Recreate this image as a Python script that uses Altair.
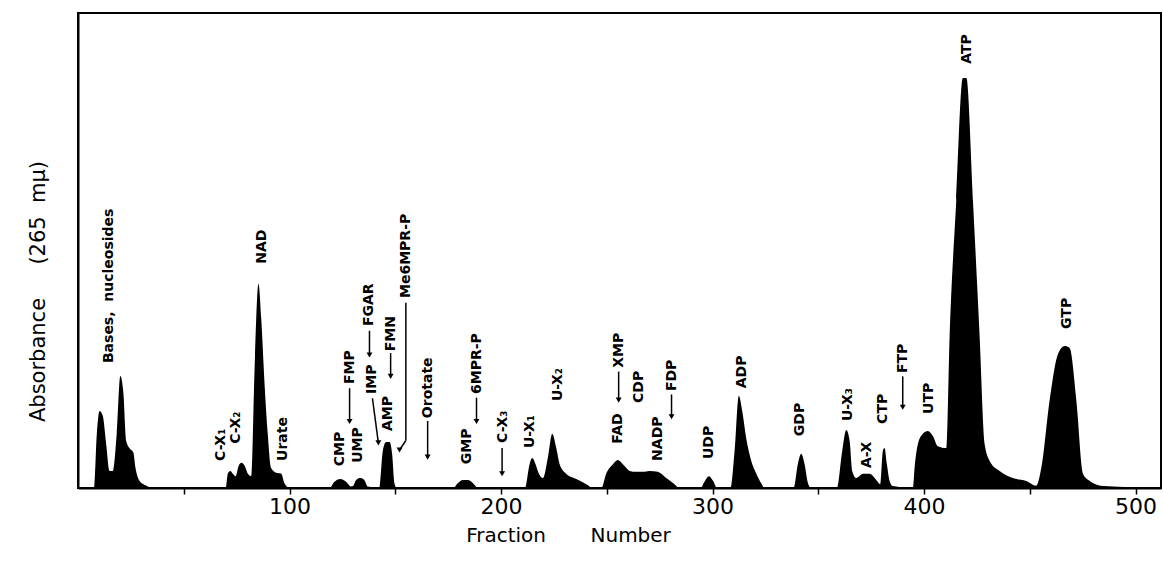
import altair as alt
import pandas as pd

# ---- elution profile (fraction number, absorbance at 265 mu, arbitrary units) ----
fraction = [0, 7.5, 8.9, 10.2, 11.7, 13.3, 14.9, 16.5, 18.3, 20.0, 21.5, 22.8, 24.3, 26.2, 27.2, 29.1, 32.4, 35,
            69.8, 70.8, 72.0, 73.2, 74.5, 75.9, 77.3, 78.9, 80.3, 81.9, 83.5, 85.3, 86.6, 88.2, 89.7, 91.3, 93.7,
            96.1, 97.6, 100,
            119, 121, 124, 127, 129, 130, 131.5, 133.5, 135.5, 137,
            142.4, 144.1, 145.7, 147.3, 148.5, 149.6, 150.6,
            177.5, 179.5, 182, 184.5, 187, 189,
            211.3, 213.5, 214.7, 216.3, 217.9, 219.8, 222.1, 224.2, 226.1, 227.7, 230.8, 235.6, 240.3, 243.4,
            247.4, 249.7, 252.9, 255.2, 257.6, 260.8, 263.9, 267.0, 270.2, 274.1, 278.1, 282.0, 284.4,
            294.5, 296.0, 298.3, 300.5, 302.0,
            308.4, 310.4, 312.4, 314.0, 315.9, 318.3, 320.7, 323.0, 324.6,
            338.3, 340.3, 341.9, 343.5, 345.1, 346.5,
            358.8, 361.3, 363.2, 364.8, 366.0, 367.9, 371.1, 374.2, 377.4, 379.3,
            380.5, 381.3, 382.4, 383.7, 385.2,
            394.7, 395.5, 397.1, 399.4, 401.8, 404.2, 406.5, 410.5,
            412.1, 415.2, 418.3, 420.0, 423.1, 426.2, 428.6, 431.0, 435.7, 441.9, 448.3, 453,
            455.4, 459.3, 463.3, 466.4, 468.8, 472.0, 475.1, 478.3, 485, 512]
absorbance = [0, 0.0, 0.114, 0.162, 0.152, 0.093, 0.036, 0.036, 0.114, 0.236, 0.198, 0.099, 0.084, 0.074, 0.042, 0.015, 0.005, 0,
              0, 0.03, 0.036, 0.03, 0.025, 0.046, 0.053, 0.046, 0.03, 0.025, 0.253, 0.43, 0.358, 0.219, 0.114, 0.042, 0.032,
              0.03, 0.01, 0,
              0, 0.012, 0.019, 0.012, 0.003, 0.004, 0.017, 0.021, 0.016, 0.003,
              0.0, 0.078, 0.097, 0.097, 0.072, 0.01, 0,
              0, 0.01, 0.017, 0.017, 0.009, 0,
              0.0, 0.05, 0.063, 0.05, 0.03, 0.021, 0.063, 0.114, 0.084, 0.05, 0.03, 0.019, 0.008, 0,
              0, 0.03, 0.05, 0.059, 0.05, 0.036, 0.034, 0.034, 0.036, 0.034, 0.021, 0.008, 0,
              0, 0.012, 0.025, 0.013, 0,
              0, 0.078, 0.194, 0.162, 0.105, 0.057, 0.03, 0.01, 0,
              0, 0.05, 0.072, 0.05, 0.01, 0,
              0, 0.078, 0.122, 0.099, 0.036, 0.021, 0.03, 0.03, 0.017, 0.008,
              0.078, 0.084, 0.05, 0.015, 0.004,
              0, 0.042, 0.093, 0.114, 0.12, 0.109, 0.088, 0.084,
              0.324, 0.604, 0.863, 0.863, 0.604, 0.324, 0.093, 0.057, 0.036, 0.021, 0.015, 0.005,
              0.042, 0.183, 0.282, 0.299, 0.295, 0.183, 0.03, 0.015, 0.004, 0]

# ---- peak labels (rotated) ----
label_text = ["Bases,\u00a0\u00a0nucleosides", "C-X\u2081", "C-X\u2082", "NAD", "Urate", "CMP", "FMP", "UMP",
              "IMP", "FGAR", "AMP", "FMN", "Me6MPR-P", "Orotate", "GMP", "6MPR-P", "C-X\u2083", "U-X\u2081",
              "U-X\u2082", "FAD", "XMP", "CDP", "NADP", "FDP", "UDP", "ADP", "GDP", "U-X\u2083", "A-X", "CTP",
              "FTP", "UTP", "ATP", "GTP"]
label_frac = [14.6, 67.8, 74.9, 86.8, 96.7, 123.7, 128.4, 132.2,
              139.2, 137.8, 146.4, 148.2, 155.3, 165.3, 183.7, 188.4, 200.7, 213.5,
              226.7, 255.1, 255.6, 265.0, 274.0, 280.6, 298.1, 313.7, 341.1, 363.8, 372.8, 380.4,
              389.9, 402.1, 420.1, 467.4]
label_abs = [0.263, 0.057, 0.093, 0.472, 0.057, 0.046, 0.219, 0.053,
             0.198, 0.341, 0.12, 0.288, 0.40, 0.147, 0.05, 0.198, 0.095, 0.084,
             0.183, 0.093, 0.253, 0.179, 0.057, 0.204, 0.061, 0.21, 0.109, 0.141, 0.042, 0.135,
             0.242, 0.156, 0.893, 0.335]

# ---- arrows pointing from labels to their positions ----
arrow_f1 = [128.4, 137.8, 139.2, 147.8, 155.0, 155.0, 165.3, 188.4, 200.5, 255.6, 280.6, 389.9]
arrow_v1 = [0.21, 0.331, 0.189, 0.284, 0.39, 0.10, 0.141, 0.19, 0.084, 0.245, 0.197, 0.235]
arrow_f2 = [128.4, 137.8, 142.0, 147.8, 155.0, 152.0, 165.3, 188.4, 200.5, 255.6, 280.6, 389.9]
arrow_v2 = [0.14, 0.28, 0.095, 0.235, 0.10, 0.08, 0.065, 0.14, 0.03, 0.185, 0.15, 0.17]
head_f = [128.4, 137.8, 142.0, 147.8, 152.0, 165.3, 188.4, 200.5, 255.6, 280.6, 389.9]
head_v = [0.14, 0.28, 0.095, 0.235, 0.08, 0.065, 0.14, 0.03, 0.185, 0.15, 0.17]

x_ticks = [50, 100, 150, 200, 250, 300, 350, 400, 450, 500]

profile = pd.DataFrame({"f": fraction, "a": absorbance})
labels = pd.DataFrame({"t": label_text, "f": label_frac, "a": label_abs})
arrows = pd.DataFrame({"f1": arrow_f1, "v1": arrow_v1, "f2": arrow_f2, "v2": arrow_v2})
heads = pd.DataFrame({"f": head_f, "a": head_v})

FONT = "DejaVu Sans"

xscale = alt.Scale(domain=[0, 512], nice=False, zero=False)
yscale = alt.Scale(domain=[0, 1.0], nice=False)

xaxis = alt.Axis(
    values=x_ticks,
    labelExpr="datum.value % 100 == 0 ? datum.label : ''",
    title="Fraction\u00a0\u00a0\u00a0\u00a0\u00a0\u00a0\u00a0Number",
    titleFont=FONT, titleFontSize=20, titleFontWeight="normal", titleColor="black",
    titleX=490, titleY=47, titleAlign="center", titleBaseline="middle", titleAnchor="start",
    labelFont=FONT, labelFontSize=22, labelColor="black", labelPadding=2,
    grid=False, domainColor="black", domainWidth=2, tickColor="black", tickWidth=1.5, tickSize=6,
)
yaxis = alt.Axis(
    title="Absorbance\u00a0\u00a0\u00a0\u00a0\u00a0(265\u00a0\u00a0m\u03bc)",
    titleFont=FONT, titleFontSize=21, titleFontWeight="normal", titleColor="black",
    titleAngle=270, titleX=-40, titleY=278, titleAlign="center", titleBaseline="middle", titleAnchor="start",
    labels=False, ticks=False, grid=False, domainColor="black", domainWidth=2,
)

area = alt.Chart(profile).mark_area(color="black", interpolate="monotone").encode(
    x=alt.X("f:Q", scale=xscale, axis=xaxis),
    y=alt.Y("a:Q", scale=yscale, axis=yaxis),
)

text = alt.Chart(labels).mark_text(
    angle=270, align="left", baseline="middle", font=FONT, fontWeight="bold", fontSize=14, color="black"
).encode(
    x=alt.X("f:Q", scale=xscale),
    y=alt.Y("a:Q", scale=yscale),
    text="t:N",
)

rules = alt.Chart(arrows).mark_rule(color="black", strokeWidth=1.5).encode(
    x=alt.X("f1:Q", scale=xscale),
    y=alt.Y("v1:Q", scale=yscale),
    x2="f2:Q",
    y2="v2:Q",
)

tips = alt.Chart(heads).mark_point(shape="triangle-down", filled=True, color="black", size=35, opacity=1).encode(
    x=alt.X("f:Q", scale=xscale),
    y=alt.Y("a:Q", scale=yscale),
)

chart = alt.layer(area, rules, tips, text).properties(
    width=1083, height=475,
    autosize="none",
    padding={"left": 78, "top": 13, "right": 2, "bottom": 73},
    background="white",
).configure_view(stroke="black", strokeWidth=2)

chart.save("out.html", embed_options={"renderer": "svg", "actions": False})
